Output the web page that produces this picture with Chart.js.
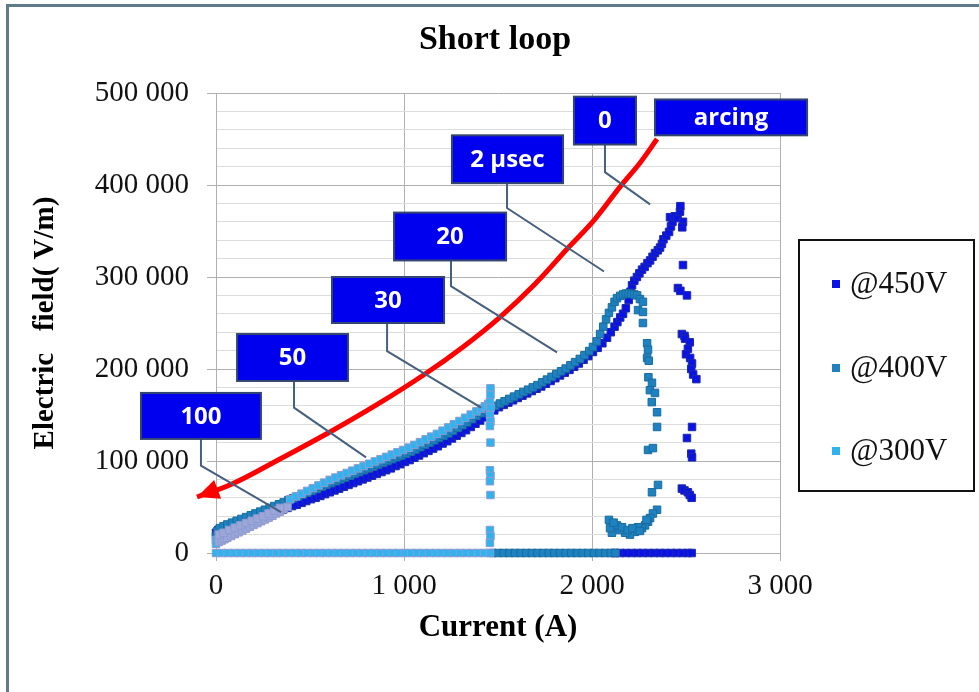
<!DOCTYPE html>
<html><head><meta charset="utf-8">
<script src="https://cdn.jsdelivr.net/npm/chart.js@4.4.1/dist/chart.umd.min.js"></script>
<style>
html,body{margin:0;padding:0;background:#fff;overflow:hidden;}
#wrap{position:relative;width:979px;height:692px;overflow:hidden;}
#frame{position:absolute;left:6px;top:4px;width:1000px;height:1000px;border-left:3px solid #5e7b8a;border-top:3px solid #5e7b8a;pointer-events:none;}
canvas{position:absolute;left:0;top:0;}
</style></head>
<body><div id="wrap"><canvas id="c" width="979" height="692"></canvas><div id="frame"></div></div>
<script>
// ---------- data (current A, electric field V/m) ----------
const seriesLabels = ['@450V', '@400V', '@300V'];
const xTickLabels = ['0', '1 000', '2 000', '3 000'];
const yTickLabels = ['0', '100 000', '200 000', '300 000', '400 000', '500 000'];
const chartTitle = 'Short loop';
const xTitle = 'Current (A)';
const yTitle = 'Electric   field( V/m)';

const at450V = [[0,22000],[12,25000],[30,26500],[55,28000],[80,29500],[105,31000],[130,32500],[155,34000],[180,35500],[205,37000],[230,38500],[255,40000],[280,42000],[305,43500],[330,45500],[355,47000],[380,49000],[405,51000],[430,52500],[455,54500],[480,56500],[505,58500],[530,60000],[555,62000],[580,64000],[605,66000],[630,68000],[655,70000],[680,72000],[705,74000],[730,76000],[755,78000],[780,80000],[805,82000],[830,84000],[855,86000],[880,88000],[905,90000],[930,92000],[955,94500],[980,96500],[1005,99000],[1030,101000],[1055,103500],[1080,106000],[1105,108500],[1130,111000],[1155,113500],[1180,116000],[1205,119000],[1230,121500],[1255,124500],[1280,127500],[1305,130500],[1330,133500],[1355,137000],[1380,140500],[1405,144000],[1430,147500],[1455,151000],[1480,155000],[1505,158500],[1530,161000],[1555,163500],[1580,166000],[1605,168500],[1630,171000],[1655,173500],[1680,176000],[1705,178500],[1730,181000],[1755,184000],[1780,187000],[1805,190000],[1830,193000],[1855,196000],[1880,199000],[1905,202500],[1930,206000],[1955,210000],[1980,214000],[2005,218500],[2030,223000],[2055,228000],[2080,234000],[2100,240000],[2120,246000],[2135,251000],[2150,256000],[2165,260000],[2180,266000],[2195,275000],[2205,284000],[2213,291000],[2225,296000],[2239,300000],[2252,304000],[2266,308000],[2280,311000],[2295,315000],[2309,318000],[2322,322000],[2335,326000],[2350,329000],[2362,332000],[2372,336000],[2380,341000],[2395,345000],[2410,349000],[2420,355000],[2428,360000],[2415,365000],[2440,366000],[2455,364000],[2468,371000],[2470,377000],[2484,360000],[2480,354000],[2484,313000],[2457,288000],[2470,285000],[2505,280000],[2478,238000],[2492,236000],[2495,233000],[2520,229000],[2510,222000],[2500,216000],[2522,212000],[2532,206000],[2528,200000],[2538,194000],[2555,189000],[2532,137000],[2505,125000],[2528,108000],[2532,104000],[2478,70000],[2492,68000],[2510,66000],[2520,63000],[2530,60000],[2120,0],[2150,0],[2180,0],[2210,0],[2240,0],[2270,0],[2300,0],[2330,0],[2360,0],[2390,0],[2420,0],[2450,0],[2480,0],[2510,0],[2530,0]];

const at400V = [[0,18000],[8,24000],[20,27000],[40,29000],[60,31000],[85,33000],[110,35000],[135,37000],[160,39000],[185,41000],[210,43000],[235,45000],[260,47000],[285,49000],[310,51000],[335,53000],[360,55000],[385,57500],[410,59500],[435,61500],[460,63500],[485,65500],[510,67500],[535,69500],[560,72000],[585,74000],[610,76000],[635,78000],[660,80000],[685,82000],[710,84000],[735,86000],[760,88000],[785,90000],[810,92000],[835,94000],[860,96000],[885,98000],[910,100000],[935,102000],[960,104000],[985,106000],[1010,108000],[1035,110000],[1060,112500],[1085,115000],[1110,117500],[1135,120000],[1160,122500],[1185,125000],[1210,127500],[1235,130000],[1260,133000],[1285,136000],[1310,139000],[1335,142000],[1360,145500],[1385,149000],[1410,152000],[1435,155000],[1460,157500],[1485,160000],[1510,162500],[1535,165000],[1560,167500],[1585,170000],[1610,172500],[1635,175000],[1660,177500],[1685,180000],[1710,182500],[1735,185500],[1760,188500],[1785,191500],[1810,194500],[1835,197500],[1860,200500],[1885,204000],[1910,207500],[1935,211000],[1960,215000],[1985,219500],[2005,224000],[2025,230000],[2043,238000],[2060,246000],[2075,254000],[2090,261000],[2106,267000],[2120,273000],[2133,277000],[2150,279500],[2165,281000],[2180,282000],[2195,282000],[2210,281500],[2225,281000],[2240,280000],[2255,276000],[2271,273000],[2245,264000],[2271,262000],[2271,250000],[2293,228000],[2298,221000],[2293,212000],[2302,209000],[2300,191000],[2319,185000],[2308,177000],[2335,174000],[2318,164000],[2346,153000],[2346,137000],[2298,112000],[2324,114000],[2319,66000],[2351,74000],[2346,47000],[2324,43000],[2309,38000],[2298,34000],[2282,30000],[2266,27000],[2245,28000],[2229,23000],[2202,20000],[2176,22000],[2149,25000],[2133,30000],[2106,22000],[2096,27000],[2090,36000],[2115,33000],[2160,28000],[2190,25000],[2215,27000],[2255,24000],[2290,36000],[1470,0],[1500,0],[1530,0],[1560,0],[1590,0],[1620,0],[1650,0],[1680,0],[1710,0],[1740,0],[1770,0],[1800,0],[1830,0],[1860,0],[1890,0],[1920,0],[1950,0],[1980,0],[2010,0],[2040,0],[2070,0],[2100,0],[2125,0]];

const at300V = [[0,14000],[0,10000],[15,12000],[30,13500],[45,15000],[60,16500],[80,18500],[100,20500],[120,22500],[140,24500],[160,26500],[180,28500],[200,30500],[220,32500],[240,34500],[260,36500],[280,38500],[300,40500],[320,43000],[340,45000],[360,47500],[380,50000],[15,20000],[40,22000],[70,25000],[100,27500],[130,30000],[160,32500],[190,35000],[220,37500],[250,40000],[280,43000],[310,46000],[340,49000],[395,58500],[425,61500],[455,64500],[485,67500],[515,70500],[545,73500],[575,76500],[605,79500],[635,82000],[665,84500],[695,87000],[725,89500],[755,92000],[785,94500],[815,97000],[845,99500],[875,102000],[905,104500],[935,107000],[965,109500],[995,112000],[1025,114500],[1055,117500],[1085,120500],[1115,123500],[1145,126500],[1175,129500],[1205,133000],[1235,136500],[1265,140000],[1295,143500],[1325,147000],[1355,150500],[1385,154000],[1410,157000],[1430,159500],[1448,162000],[1460,179000],[1460,172000],[1457,164000],[1460,158000],[1457,150000],[1460,143000],[1457,138000],[1460,120000],[1457,90000],[1460,84000],[1457,78000],[1460,63000],[1457,25000],[1460,18500],[1457,11000],[0,0],[30,0],[62,0],[95,0],[128,0],[160,0],[192,0],[225,0],[258,0],[290,0],[322,0],[355,0],[388,0],[420,0],[452,0],[485,0],[518,0],[550,0],[582,0],[615,0],[648,0],[680,0],[712,0],[745,0],[778,0],[810,0],[842,0],[875,0],[908,0],[940,0],[972,0],[1005,0],[1038,0],[1070,0],[1102,0],[1135,0],[1168,0],[1200,0],[1232,0],[1265,0],[1298,0],[1330,0],[1362,0],[1395,0],[1428,0],[1458,0]];

// red trend arrow, from its tail (top right) to its tip (lower left)
const arrowPath = [[2346,450000],[2255,424000],[2149,398000],[2016,363000],[1872,331500],[1697,292400],[1511,256500],[1314,224000],[1112,194600],[862,162000],[606,131500],[340,102200],[85,75000],[-101,60900]];

// callout labels: text, box corners [I1,E1,I2,E2], leader line points
const calloutTexts = ['arcing', '0', '2 µsec', '20', '30', '50', '100'];
const calloutBoxes = [[2335,493000,3144,454000],[1904,496000,2234,444000],[1255,454000,1846,402000],[947,370000,1543,318000],[617,300000,1213,250000],[112,238000,702,187000],[-399,174000,239,124000]];
const calloutLeaders = [null,[[2069,444000],[2069,414000],[2309,379000]],[[1548,402000],[1548,375000],[2064,306000]],[[1250,318000],[1250,290000],[1814,218000]],[[910,250000],[910,219500],[1410,158000]],[[415,187000],[415,158000],[798,104000]],[[-80,124000],[-80,95000],[346,44500]]];

// ---------- styles ----------
const serif = 'Liberation Serif';
const col450 = '#0a12e6', col400 = '#1f82c0', col300 = '#2fb3ef', lav = '#9ba7d8';
const toXY = arr => arr.map(p => ({x: p[0], y: p[1]}));
const gridMajor = '#b0b0b0', gridMinor = '#dcdcdc';

const calloutPlugin = {
  id: 'callouts',
  afterDatasetsDraw(chart) {
    const {ctx} = chart; const sx = chart.scales.x, sy = chart.scales.y;
    const P = (a, b) => [sx.getPixelForValue(a), sy.getPixelForValue(b)];
    ctx.save();
    const n = arrowPath.length;
    const [tx, ty] = P(arrowPath[n-1][0], arrowPath[n-1][1]);
    const [bx, by] = P(arrowPath[n-2][0], arrowPath[n-2][1]);
    let dx = tx - bx, dy = ty - by; const L = Math.hypot(dx, dy); dx /= L; dy /= L;
    const len = 22, hw = 10;
    ctx.fillStyle = '#ff0000';
    ctx.beginPath();
    ctx.moveTo(tx, ty);
    ctx.lineTo(tx - dx*len - dy*hw, ty - dy*len + dx*hw);
    ctx.lineTo(tx - dx*len + dy*hw, ty - dy*len - dx*hw);
    ctx.closePath(); ctx.fill();
    ctx.strokeStyle = '#46607e'; ctx.lineWidth = 2;
    calloutLeaders.forEach(pts => {
      if (!pts) return;
      ctx.beginPath();
      pts.forEach((p, i) => { const [px, py] = P(p[0], p[1]); i ? ctx.lineTo(px, py) : ctx.moveTo(px, py); });
      ctx.stroke();
    });
    calloutBoxes.forEach((b, i) => {
      const [x1, y1] = P(b[0], b[1]); const [x2, y2] = P(b[2], b[3]);
      ctx.fillStyle = '#0000ee';
      ctx.fillRect(x1, y1, x2 - x1, y2 - y1);
      ctx.strokeStyle = '#34466f'; ctx.lineWidth = 2;
      ctx.strokeRect(x1, y1, x2 - x1, y2 - y1);
      ctx.fillStyle = '#ffffff';
      ctx.font = 'bold 24px "Open Sans"';
      ctx.textAlign = 'center'; ctx.textBaseline = 'middle';
      ctx.fillText(calloutTexts[i], (x1 + x2) / 2, (y1 + y2) / 2 + 1);
    });
    ctx.restore();
  },
  afterDraw(chart) {
    const {ctx} = chart;
    ctx.save();
    ctx.strokeStyle = '#111'; ctx.lineWidth = 2;
    ctx.strokeRect(799, 240, 175, 251);
    const rows = [284, 368, 451];
    chart.data.datasets.slice(0, 3).forEach((ds, i) => {
      ctx.fillStyle = ds.legendColor;
      ctx.fillRect(832, rows[i] - 4, 8, 8);
      ctx.fillStyle = '#111';
      ctx.font = '31px "' + serif + '"';
      ctx.textAlign = 'left'; ctx.textBaseline = 'middle';
      ctx.fillText(ds.label, 850, rows[i] + 1);
    });
    ctx.restore();
  }
};

const pointBase = {pointStyle: 'rect', pointRadius: 5.3, borderWidth: 1, showLine: false, clip: false};

new Chart(document.getElementById('c'), {
  type: 'scatter',
  data: {
    datasets: [
      Object.assign({label: seriesLabels[0], data: toXY(at450V), backgroundColor: col450, borderColor: '#1d2aa8', legendColor: col450, order: 3}, pointBase),
      Object.assign({label: seriesLabels[1], data: toXY(at400V), backgroundColor: col400, borderColor: '#186c9f', legendColor: col400, order: 2}, pointBase),
      Object.assign({label: seriesLabels[2], data: toXY(at300V), legendColor: col300, order: 1,
        backgroundColor: c => (c.raw && c.raw.x > 2 && c.raw.x <= 380 && c.raw.y > 0) ? lav : col300,
        borderColor: '#8e9bd0'}, pointBase),
      {label: 'arrow', data: toXY(arrowPath), showLine: true, borderColor: '#ff0000', borderWidth: 5,
        pointRadius: 0, tension: 0.4, clip: false, fill: false, order: 0}
    ]
  },
  options: {
    responsive: false, animation: false, events: [],
    layout: {padding: {left: 11, right: 0, top: 0, bottom: 0}},
    plugins: {
      legend: {display: false}, tooltip: {enabled: false},
      title: {display: true, text: chartTitle, color: '#000',
        font: {family: serif, size: 34, weight: 'bold'}, padding: {top: 19.6, bottom: 32.6}}
    },
    scales: {
      x: {
        type: 'linear', min: 0, max: 3000,
        ticks: {stepSize: 1000, autoSkip: false, color: '#111', font: {family: serif, size: 29}, padding: 8,
          callback: v => xTickLabels[Math.round(v / 1000)]},
        grid: {color: gridMajor, tickColor: gridMajor, tickLength: 8, lineWidth: 1},
        border: {color: gridMajor},
        title: {display: true, text: xTitle, color: '#000', font: {family: serif, size: 31, weight: 'bold'}, padding: {top: 0, bottom: 45}},
        afterFit: s => { s.height = 139; }
      },
      y: {
        type: 'linear', min: 0, max: 500000,
        ticks: {stepSize: 20000, autoSkip: false, color: '#111', font: {family: serif, size: 29}, padding: 18,
          callback: v => (v % 100000 === 0 ? yTickLabels[Math.round(v / 100000)] : '')},
        grid: {
          color: c => (c.tick && c.tick.value % 100000 === 0) ? gridMajor : gridMinor,
          tickColor: c => (c.tick && c.tick.value % 100000 === 0) ? gridMajor : 'rgba(0,0,0,0)',
          tickLength: 9, lineWidth: 1
        },
        border: {color: gridMajor},
        title: {display: true, text: yTitle, color: '#000', font: {family: serif, size: 29, weight: 'bold'}, padding: {top: 17, bottom: 0}},
        afterFit: s => { s.width = 205; }
      },
      legendSpace: {
        type: 'linear', position: 'right', display: true, min: 0, max: 1,
        ticks: {display: false}, grid: {display: false, drawTicks: false}, border: {display: false},
        afterFit: s => { s.width = 199; }
      }
    }
  },
  plugins: [calloutPlugin]
});
</script>
</body></html>
